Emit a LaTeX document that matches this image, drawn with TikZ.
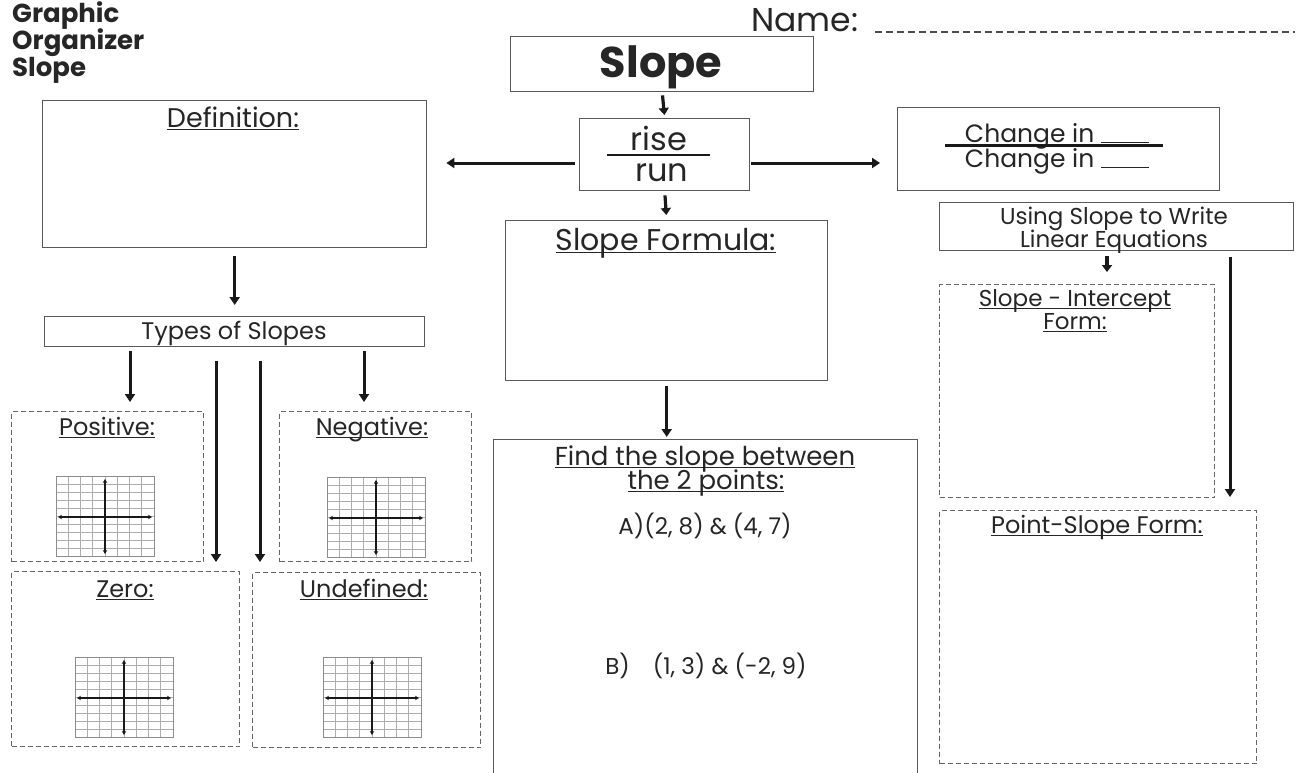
\documentclass[tikz,border=0pt]{standalone}
\usepackage{fontspec}
\setmainfont{Poppins}
\usetikzlibrary{arrows.meta,calc}
\newcommand{\myul}[1]{\setbox0\hbox{#1}\rlap{\rule[-3pt]{\wd0}{1.4pt}}\box0}
\newcommand{\blank}{\rule[-1pt]{48pt}{1.3pt}}
\newcommand{\axgrid}[2]{%
  \begin{scope}[shift={(#1,#2)}]
    \foreach \i in {1,...,7} \draw[gridline] (\i*12.25,0) -- (\i*12.25,80);
    \foreach \j in {1,...,9} \draw[gridline] (0,\j*8) -- (98,\j*8);
    \draw[gridframe] (0,0) rectangle (98,80);
    \draw[axis] (2,41) -- (96,41);
    \draw[axis] (49,3) -- (49,78);
  \end{scope}}
\begin{document}
\begin{tikzpicture}[x=1pt,y=-1pt,
  box/.style={draw=black!65, line width=1.4pt, inner sep=0pt, anchor=north west},
  dbox/.style={draw=black!60, line width=1.4pt, dash pattern=on 5pt off 3pt, inner sep=0pt, anchor=north west},
  arr/.style={line width=3pt, draw=black!90, -{Triangle[length=8pt,width=10pt]}},
  sarr/.style={line width=3.2pt, draw=black!90, -{Triangle[length=7pt,width=10pt]}},
  lbl/.style={anchor=base, inner sep=0pt, text=black!85},
  gridline/.style={draw=black!32, line width=0.6pt},
  gridframe/.style={draw=black!45, line width=0.9pt},
  axis/.style={draw=black!90, line width=1.6pt, {Stealth[length=4pt,width=4.5pt]}-{Stealth[length=4pt,width=4.5pt]}},
]
\useasboundingbox (0,0) rectangle (1299,772);
\fill[white] (0,0) rectangle (1299,772);
\clip (0,0) rectangle (1299,772);

% title
\node[lbl, anchor=base west, font=\bfseries\fontsize{26}{28}\selectfont] (t1) at (12,22) {Graphic};
\node[lbl, anchor=base west, font=\bfseries\fontsize{26}{28}\selectfont] (t2) at (12,49) {Organizer};
\node[lbl, anchor=base west, font=\bfseries\fontsize{26}{28}\selectfont] (t3) at (12,76) {Slope};

% name
\node[lbl, anchor=base west, font=\fontsize{33}{35}\selectfont] (name) at (751,31) {Name:};
\draw[black!70, line width=1.5pt, dash pattern=on 7pt off 4pt] (875,32) -- (1295,32);

% boxes
\node[box, minimum width=303, minimum height=55] (slopebox) at (510,36) {};
\node[box, minimum width=170, minimum height=72] (riserun) at (579,118) {};
\node[box, minimum width=384, minimum height=147] (def) at (42,100) {};
\node[box, minimum width=322, minimum height=83] (change) at (897,107) {};
\node[box, minimum width=322, minimum height=160] (formula) at (505,220) {};
\node[box, minimum width=424, minimum height=360] (find) at (493,439) {};
\node[box, minimum width=354, minimum height=48] (using) at (939,202) {};
\node[dbox, minimum width=275, minimum height=213] (sint) at (939,284) {};
\node[dbox, minimum width=317, minimum height=253] (pslope) at (939,510) {};
\node[box, minimum width=380, minimum height=30] (types) at (44,316) {};
\node[dbox, minimum width=192, minimum height=150] (pos) at (11,411) {};
\node[dbox, minimum width=192, minimum height=150] (neg) at (279,411) {};
\node[dbox, minimum width=228, minimum height=175] (zero) at (11,571) {};
\node[dbox, minimum width=228, minimum height=175] (undef) at (252,572) {};

% texts
\node[lbl, font=\bfseries\fontsize{43}{45}\selectfont] (slopetxt) at (661,77) {Slope};
\node[lbl, font=\fontsize{32}{34}\selectfont] (rise) at (659,150) {rise};
\node[lbl, font=\fontsize{32}{34}\selectfont] (run) at (662,181) {run};
\draw[black!90, line width=2.4pt] (607,155) -- (710,155);
\node[lbl, font=\fontsize{27}{29}\selectfont] (deftxt) at (233,127) {\myul{Definition:}};
\node[lbl, font=\fontsize{25}{27}\selectfont] (ch1) at (1057,142) {Change in \blank};
\node[lbl, font=\fontsize{25}{27}\selectfont] (ch2) at (1057,167) {Change in \blank};
\draw[black!90, line width=3pt] (945,145) -- (1163,145);
\node[lbl, font=\fontsize{30}{32}\selectfont] (formtxt) at (666,250) {\myul{Slope Formula:}};
\node[lbl, font=\fontsize{23}{25}\selectfont] (us1) at (1114,224) {Using Slope to Write};
\node[lbl, font=\fontsize{23}{25}\selectfont] (us2) at (1114,247) {Linear Equations};
\node[lbl, font=\fontsize{23}{25}\selectfont] (si1) at (1075,306) {\myul{Slope - Intercept}};
\node[lbl, font=\fontsize{23}{25}\selectfont] (si2) at (1075,329) {\myul{Form:}};
\node[lbl, font=\fontsize{24}{26}\selectfont] (pstxt) at (1097,533) {\myul{Point-Slope Form:}};
\node[lbl, font=\fontsize{24}{26}\selectfont] (typestxt) at (234,339) {Types of Slopes};
\node[lbl, font=\fontsize{24}{26}\selectfont] (postxt) at (107,435) {\myul{Positive:}};
\node[lbl, font=\fontsize{24}{26}\selectfont] (negtxt) at (372,435) {\myul{Negative:}};
\node[lbl, font=\fontsize{24}{26}\selectfont] (zerotxt) at (125,597) {\myul{Zero:}};
\node[lbl, font=\fontsize{24}{26}\selectfont] (undeftxt) at (364,597) {\myul{Undefined:}};
\node[lbl, font=\fontsize{26}{28}\selectfont] (f1) at (705,465) {\myul{Find the slope between}};
\node[lbl, font=\fontsize{26}{28}\selectfont] (f2) at (706,489) {\myul{the 2 points:}};
\node[lbl, font=\fontsize{23}{25}\selectfont] (pa) at (705,534) {A)(2, 8) \& (4, 7)};
\node[lbl, font=\fontsize{23}{25}\selectfont] (pb) at (706,674) {B)\quad(1, 3) \& (-2, 9)};

% grids
\axgrid{56}{476}
\axgrid{327}{477}
\axgrid{75}{657}
\axgrid{323}{657}

% arrow coordinates
\coordinate (a1) at (130,0);
\coordinate (a2) at (364,0);
\coordinate (a3) at (216,0);
\coordinate (a4) at (260,0);
\coordinate (u1) at (1107,0);
\coordinate (u2) at (1230,0);
\coordinate (hy) at (0,163);

% connectors
\draw[sarr, shorten <=3pt, shorten >=3pt] (slopebox.south) -- (riserun.north);
\draw[sarr, shorten <=4pt, shorten >=5pt] (riserun.south) -- (formula.north);
\draw[arr, shorten <=4pt, shorten >=19pt] (riserun.west |- hy) -- (def.east |- hy);
\draw[arr, shorten <=1pt, shorten >=17pt] (riserun.east |- hy) -- (change.west |- hy);
\draw[arr, shorten <=5pt, shorten >=2pt] (formula.south) -- (formula.south |- find.north);
\draw[arr, shorten <=8pt, shorten >=11pt] (def.south) -- (types.north);
\draw[arr, shorten <=4pt, shorten >=9pt] (types.south -| a1) -- (pos.north -| a1);
\draw[arr, shorten <=4pt, shorten >=9pt] (types.south -| a2) -- (neg.north -| a2);
\draw[arr, shorten <=14pt, shorten >=9pt] (types.south -| a3) -- (zero.north -| a3);
\draw[arr, shorten <=14pt, shorten >=10pt] (types.south -| a4) -- (undef.north -| a4);
\draw[sarr, shorten <=5pt, shorten >=12pt] (using.south -| u1) -- (sint.north -| u1);
\draw[arr, shorten <=6pt, shorten >=13pt] (using.south -| u2) -- (pslope.north -| u2);
\end{tikzpicture}
\end{document}
